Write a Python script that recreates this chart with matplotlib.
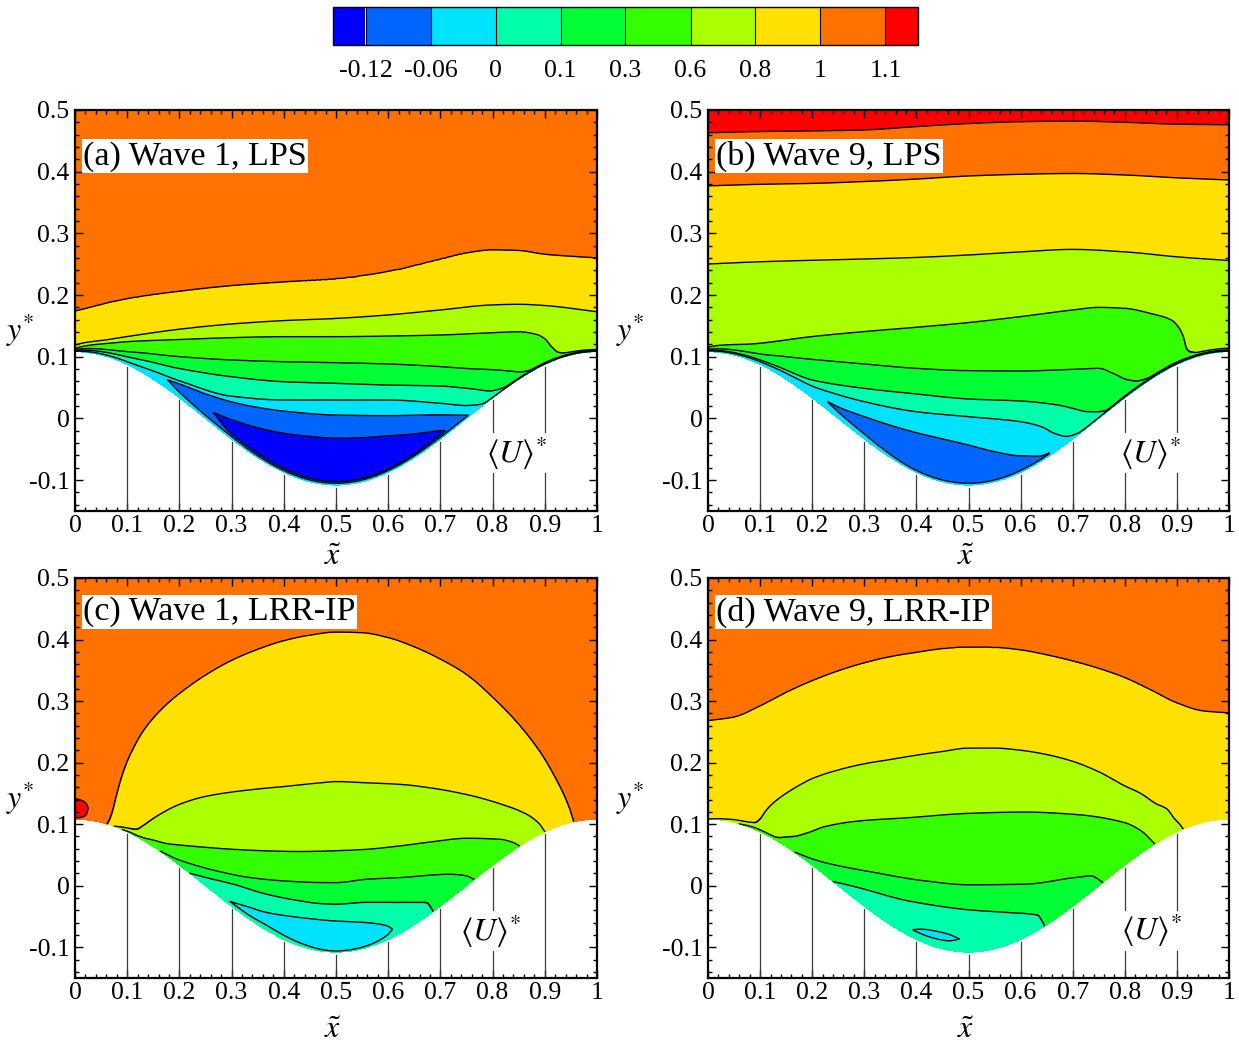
import numpy as np
import matplotlib
matplotlib.use("Agg")
import matplotlib.pyplot as plt
from matplotlib.colors import ListedColormap, BoundaryNorm
from matplotlib.ticker import MultipleLocator

plt.rcParams["font.family"] = "serif"
plt.rcParams["font.serif"] = ["Liberation Serif", "DejaVu Serif"]
plt.rcParams["mathtext.fontset"] = "stix"
plt.rcParams["contour.negative_linestyle"] = "solid"

# ---------------------------------------------------------------- levels
LEVELS = [-0.12, -0.06, 0.0, 0.1, 0.3, 0.6, 0.8, 1.0, 1.1]
LEVEL_LABELS = ["-0.12", "-0.06", "0", "0.1", "0.3", "0.6", "0.8", "1", "1.1"]
BAND_COLORS = ["#0000ff", "#0066ff", "#00e3ff", "#00ffaa", "#00ff33",
               "#33ff00", "#aaff00", "#ffe100", "#ff7100", "#ff0000"]
WAVE_AMPLITUDE = 0.108
STATIONS = [0.1, 0.2, 0.3, 0.4, 0.5, 0.6, 0.7, 0.8, 0.9]

# ------------------------------------------------ (a) Wave 1, LPS
a_top = 1.05
a_wall_x = [0.0, 1.0]
a_wall_u = [-0.03, -0.03]
a_u100_x = [0, .1, .2, .3, .4, .5, .6, .7, .75, .8, .85, .9, 1.0]
a_u100_y = [.174, .194, .206, .215, .221, .226, .238, .258, .268, .273, .272, .266, .260]
a_u080_x = [0, .1, .2, .3, .4, .5, .6, .7, .8, .85, .9, 1.0]
a_u080_y = [.119, .1326, .1445, .153, .1585, .162, .1677, .1758, .184, .185, .183, .173]
a_u060_x = [0, .1, .2, .3, .4, .5, .6, .7, .8, .85, .885, .9, .913, .926, .94, 1.0]
a_u060_y = [.1135, .1245, .128, .131, .1326, .1326, .1336, .1353, .139, .1405, .136, .129,
            .116, .107, .1065, .1115]
a_u030_x = [0, .1, .2, .3, .4, .5, .6, .7, .75, .8, .83, .856, .875, .9, .95, 1.0]
a_u030_y = [.1115, .1083, .1002, .0948, .092, .0904, .0883, .084, .081, .079, .077, .0755,
            .0795, .0904, .1050, .1102]
a_u010_x = [0, .1, .2, .3, .4, .5, .6, .7, .75, .8, .83, .9, .95, 1.0]
a_u010_y = [.110, .100, .081, .0677, .0596, .057, .0542, .0526, .049, .045, .054, .0894,
            .1043, .1095]
a_u000_x = [0, .1, .2, .3, .4, .5, .6, .7, .75, .79, .82, .9, .95, 1.0]
a_u000_y = [.109, .092, .061, .036, .030, .030, .030, .0246, .021, .0279, .0464, .0884,
            .1037, .1088]
a_m006_x = [.1775, .2, .25, .3, .35, .4, .5, .6, .7, .753]
a_m006_top_y = [.0623, .056, .040, .027, .018, .012, .0056, .0046, .006, .005]
a_m006_low_gap = [.015, .009, .005, .004, .003, .003, .003, .003, .003, .003]
a_m012_top_x = [.265, .3, .35, .4, .45, .5, .55, .6, .65, .7, .709]
a_m012_top_y = [.0094, -.002, -.015, -.024, -.029, -.032, -.031, -.028, -.025, -.020, -.0198]
a_m012_low_x = [.265, .3, .4, .5, .6, .7, .709]
a_m012_low_gap = [.0196, .008, .006, .0055, .0055, .007, .0079]

# ------------------------------------------------ (b) Wave 9, LPS
b_top = 1.12
b_wall_x = [0.0, 1.0]
b_wall_u = [-0.03, -0.03]
b_grid_x = [0, .1, .2, .3, .4, .5, .6, .7, .8, .9, 1.0]
b_u110_y = [.463, .465, .466, .4676, .473, .478, .481, .482, .480, .477, .476]
b_u100_y = [.377, .3795, .381, .384, .388, .393, .3957, .397, .3946, .390, .3865]
b_u080_y = [.2504, .254, .2564, .2585, .261, .265, .270, .274, .270, .262, .256]
b_u060_x = [0, .1, .2, .3, .4, .5, .6, .7, .75, .8, .85, .889, .902, .912, .918, .924, .94, 1.0]
b_u060_y = [.1153, .1218, .1326, .1407, .1477, .1553, .165, .1758, .180, .1785, .170, .1596,
            .149, .1326, .1137, .1084, .1072, .1137]
b_u030_x = [0, .1, .2, .3, .4, .5, .6, .7, .75, .78, .806, .825, .851, .9, .95, 1.0]
b_u030_y = [.112, .1045, .0958, .0883, .0812, .0775, .077, .0796, .0812, .072, .0624, .0607,
            .0683, .0914, .1057, .1110]
b_u010_x = [0, .1, .2, .3, .4, .5, .6, .672, .7, .729, .752, .768, .8, .9, .95, 1.0]
b_u010_y = [.1105, .0948, .0623, .0488, .0397, .0316, .0283, .0218, .0164, .011, .011, .0147,
            .0364, .0894, .1047, .1098]
b_u000_x = [0, .1, .2, .3, .4, .5, .6, .64, .665, .69, .72, .8, .9, .95, 1.0]
b_u000_y = [.1095, .092, .0526, .0272, .011, .003, -.0052, -.0133, -.024, -.029, -.0186,
            .0349, .0889, .1042, .1092]
b_m006_x = [.229, .256, .3, .35, .4, .45, .5, .55, .6, .64, .656]
b_m006_top_y = [.0272, .0164, .003, -.011, -.023, -.033, -.043, -.0538, -.0605, -.0605, -.0555]
b_m006_low_gap = [.013, .010, .008, .005, .003, .003, .003, .003, .003, .0032, .0036]

# ------------------------------------------------ (c) Wave 1, LRR-IP
c_top = 1.05
c_wall_x = [0, .062, .075, .09, .163, .22, .27, .6, .645, .687, .765, .852, .9, .955, 1.0]
c_wall_u = [1.05, 1.0, .8, .6, .3, .1, .04, .04, .07, .1, .3, .6, .8, 1.0, 1.05]
c_u110_x = [0, .008, .016, .022, .025]
c_u110_top_y = [.141, .140, .137, .132, .125]
c_u110_low_gap = [.002, .0026, .0045, .009, .0183]
c_u100_x = [.062, .067, .072, .078, .085, .093, .103, .115, .13, .15, .175, .2, .25, .3, .35,
            .4, .45, .5, .55, .6, .65, .7, .75, .8, .85, .88, .9, .92, .935, .945, .95, .955]
c_u100_y = [.100, .108, .120, .140, .163, .185, .207, .228, .250, .272, .294, .312, .342, .366,
            .384, .398, .407, .412, .411, .403, .388, .368, .343, .306, .262, .230, .205, .175,
            .150, .130, .118, .104]
c_u080_x = [.075, .095, .118, .13, .145, .163, .2, .25, .3, .35, .4, .47, .5, .559, .623, .687,
            .75, .814, .865, .89, .9]
c_u080_y = [.0966, .0945, .0916, .097, .106, .116, .132, .145, .152, .157, .161, .167, .169,
            .167, .1645, .158, .148, .133, .116, .100, .0876]
c_u060_x = [.09, .105, .118, .131, .15, .176, .2, .239, .303, .367, .431, .495, .559, .623,
            .687, .75, .814, .84, .852]
c_u060_y = [.0913, .087, .082, .078, .074, .0683, .066, .063, .059, .0565, .0554, .0565, .059,
            .0646, .0716, .077, .0754, .070, .0645]
c_u030_x = [.163, .19, .214, .271, .335, .399, .469, .5, .559, .623, .718, .75, .765]
c_u030_y = [.0563, .045, .0376, .024, .0132, .0078, .0051, .005, .0105, .0132, .0186, .016, .0103]
c_u010_x = [.22, .25, .303, .367, .431, .469, .5, .559, .623, .655, .674, .687]
c_u010_y = [.0203, .0135, .0025, -.0138, -.0246, -.029, -.030, -.027, -.027, -.027, -.0273,
            -.0418]
c_u000_x = [.297, .33, .367, .431, .495, .559, .597, .608]
c_u000_top_y = [-.0257, -.034, -.0435, -.0516, -.057, -.060, -.065, -.0705]
c_u000_low_gap = [.0057, .006, .008, .005, .002, .003, .0074, .013]

# ------------------------------------------------ (d) Wave 9, LRR-IP
d_top = 1.05
d_wall_x = [0, .06, .166, .24, .27, .62, .645, .758, .858, .912, 1.0]
d_wall_u = [.8, .6, .3, .1, .06, .06, .1, .3, .6, .8, .9]
d_u100_x = [0, .05, .1, .15, .2, .25, .3, .35, .4, .45, .5, .55, .6, .65, .7, .75, .8, .85,
            .9, .95, 1.0]
d_u100_y = [.268, .274, .292, .314, .333, .349, .362, .372, .379, .385, .3876, .387, .383,
            .375, .365, .353, .338, .318, .297, .284, .2807]
d_u080_x = [0, .045, .09, .1, .11, .12, .135, .15, .175, .2, .25, .3, .35, .4, .45, .5, .55,
            .6, .65, .7, .75, .8, .83, .86, .88, .895, .905, .912]
d_u080_y = [.1081, .1077, .1024, .108, .120, .130, .141, .150, .163, .174, .188, .198, .205,
            .212, .218, .2235, .2235, .220, .213, .202, .185, .162, .150, .133, .125, .109,
            .100, .0918]
d_u060_x = [.06, .09, .128, .16, .192, .224, .288, .384, .5, .608, .704, .8, .832, .858]
d_u060_y = [.1005, .0942, .0796, .0796, .086, .0959, .105, .1104, .1175, .1196, .1158, .1024,
            .0888, .0677]
d_u030_x = [.166, .195, .224, .32, .416, .5, .608, .704, .736, .758]
d_u030_y = [.0547, .045, .0375, .0213, .0078, .0014, .0024, .0132, .0159, .0054]
d_u010_x = [.24, .288, .384, .5, .576, .633, .645]
d_u010_y = [.0069, -.0029, -.0245, -.039, -.0435, -.0478, -.0624]
d_u000_x = [.393, .41, .435, .46, .483]
d_u000_top_y = [-.0716, -.0708, -.0735, -.0785, -.0865]
d_u000_low_gap = [.0127, .0127, .0135, .0151, .0209]


def wall(x):
    return WAVE_AMPLITUDE * np.cos(2.0 * np.pi * np.asarray(x, dtype=float))


def pchip(xk, yk, xq):
    """Shape-preserving piecewise cubic Hermite interpolation."""
    xk = np.asarray(xk, float)
    yk = np.asarray(yk, float)
    xq = np.asarray(xq, float)
    n = len(xk)
    if n < 3:
        return np.interp(xq, xk, yk)
    h = np.diff(xk)
    delta = np.diff(yk) / h
    m = np.zeros(n)
    for k in range(1, n - 1):
        if delta[k - 1] * delta[k] > 0:
            w1 = 2 * h[k] + h[k - 1]
            w2 = h[k] + 2 * h[k - 1]
            m[k] = (w1 + w2) / (w1 / delta[k - 1] + w2 / delta[k])
    m[0] = delta[0]
    m[-1] = delta[-1]
    idx = np.clip(np.searchsorted(xk, xq) - 1, 0, n - 2)
    t = (xq - xk[idx]) / h[idx]
    h00 = 2 * t**3 - 3 * t**2 + 1
    h10 = t**3 - 2 * t**2 + t
    h01 = -2 * t**3 + 3 * t**2
    h11 = t**3 - t**2
    return (h00 * yk[idx] + h10 * h[idx] * m[idx] + h01 * yk[idx + 1]
            + h11 * h[idx] * m[idx + 1])


def branch(level, xs, ys):
    return ("y", level, np.asarray(xs, float), np.asarray(ys, float))


def lower_branch(level, xs, gaps):
    return ("gap", level, np.asarray(xs, float), np.asarray(gaps, float))


def branch_heights(kind, bx, vals, xq, ywq):
    """Height above the wall of one contour branch on the plotting grid."""
    if kind == "gap":
        return pchip(bx, vals, xq)
    yi = pchip(bx, vals, xq)
    di = pchip(bx, vals - wall(bx), xq)
    w = np.clip(1.0 - di / 0.03, 0.0, 1.0)   # hug the wall where the band is thin
    y = yi + w * (ywq + di - yi)
    return y - ywq


def build_field(wall_x, wall_u, top_u, branches, nx=801, ns=700):
    """Mean-velocity field on a wall-fitted grid from contour-crossing heights."""
    x = np.linspace(0.0, 1.0, nx)
    yw = wall(x)
    depth = 0.5 - yw
    s = np.linspace(0.0, 1.0, ns) ** 1.8
    uw = np.interp(x, wall_x, wall_u)

    per_branch = []
    for kind, lev, bx, vals in branches:
        mask = (x >= bx[0] - 1e-9) & (x <= bx[-1] + 1e-9)
        d = np.full(nx, np.nan)
        d[mask] = branch_heights(kind, bx, vals, x[mask], yw[mask])
        per_branch.append((lev, d))

    U = np.empty((ns, nx))
    for j in range(nx):
        dk, uk = [], []
        for lev, d in per_branch:
            if not np.isnan(d[j]):
                dk.append(max(d[j], 2e-4))
                uk.append(lev)
        order = np.argsort(dk, kind="stable")
        dd = [0.0] + [dk[i] for i in order]
        uu = [uw[j]] + [uk[i] for i in order]
        d2, u2 = [dd[0]], [uu[0]]
        for i in range(1, len(dd)):
            if i >= 2 and abs(uu[i] - uu[i - 1]) < 1e-9:
                # band enclosed by the same level twice: bubble or peak
                ext = uu[i] - 0.02 if uu[i - 2] > uu[i] else uu[i] + 0.02
                d2.append(0.5 * (dd[i] + dd[i - 1]))
                u2.append(ext)
            d2.append(dd[i])
            u2.append(uu[i])
        d2.append(depth[j])
        u2.append(top_u)
        d2 = np.maximum.accumulate(np.asarray(d2)) + 1e-7 * np.arange(len(d2))
        U[:, j] = np.interp(s * depth[j], d2, np.asarray(u2))
    X = np.broadcast_to(x[None, :], (ns, nx))
    Y = yw[None, :] + s[:, None] * depth[None, :]
    return X, Y, U


panels = [
    dict(tag="(a) Wave 1, LPS", top=a_top, wall=(a_wall_x, a_wall_u),
         branches=[branch(1.0, a_u100_x, a_u100_y), branch(0.8, a_u080_x, a_u080_y),
                   branch(0.6, a_u060_x, a_u060_y), branch(0.3, a_u030_x, a_u030_y),
                   branch(0.1, a_u010_x, a_u010_y), branch(0.0, a_u000_x, a_u000_y),
                   branch(-0.06, a_m006_x, a_m006_top_y),
                   lower_branch(-0.06, a_m006_x, a_m006_low_gap),
                   branch(-0.12, a_m012_top_x, a_m012_top_y),
                   lower_branch(-0.12, a_m012_low_x, a_m012_low_gap)],
         ulabel=(0.845, -0.056), row=0, col=0),
    dict(tag="(b) Wave 9, LPS", top=b_top, wall=(b_wall_x, b_wall_u),
         branches=[branch(1.1, b_grid_x, b_u110_y), branch(1.0, b_grid_x, b_u100_y),
                   branch(0.8, b_grid_x, b_u080_y), branch(0.6, b_u060_x, b_u060_y),
                   branch(0.3, b_u030_x, b_u030_y), branch(0.1, b_u010_x, b_u010_y),
                   branch(0.0, b_u000_x, b_u000_y),
                   branch(-0.06, b_m006_x, b_m006_top_y),
                   lower_branch(-0.06, b_m006_x, b_m006_low_gap)],
         ulabel=(0.85, -0.056), row=0, col=1),
    dict(tag="(c) Wave 1, LRR-IP", top=c_top, wall=(c_wall_x, c_wall_u),
         branches=[branch(1.1, c_u110_x, c_u110_top_y),
                   lower_branch(1.1, c_u110_x, c_u110_low_gap),
                   branch(1.0, c_u100_x, c_u100_y), branch(0.8, c_u080_x, c_u080_y),
                   branch(0.6, c_u060_x, c_u060_y), branch(0.3, c_u030_x, c_u030_y),
                   branch(0.1, c_u010_x, c_u010_y),
                   branch(0.0, c_u000_x, c_u000_top_y),
                   lower_branch(0.0, c_u000_x, c_u000_low_gap)],
         ulabel=(0.795, -0.074), row=1, col=0),
    dict(tag="(d) Wave 9, LRR-IP", top=d_top, wall=(d_wall_x, d_wall_u),
         branches=[branch(1.0, d_u100_x, d_u100_y), branch(0.8, d_u080_x, d_u080_y),
                   branch(0.6, d_u060_x, d_u060_y), branch(0.3, d_u030_x, d_u030_y),
                   branch(0.1, d_u010_x, d_u010_y),
                   branch(0.0, d_u000_x, d_u000_top_y),
                   lower_branch(0.0, d_u000_x, d_u000_low_gap)],
         ulabel=(0.852, -0.073), row=1, col=1),
]

W, H = 1239, 1044
fig = plt.figure(figsize=(W / 100, H / 100), dpi=100)

cmap = ListedColormap(BAND_COLORS[1:-1])
cmap.set_under(BAND_COLORS[0])
cmap.set_over(BAND_COLORS[-1])
norm = BoundaryNorm(LEVELS, cmap.N)

ax_left = [75, 708]
ax_width = [522, 521]
ax_top = [110, 578]
ax_height = [401, 400]

cs_ref = None
for p in panels:
    r, c = p["row"], p["col"]
    left = ax_left[c] / W
    bottom = 1 - (ax_top[r] + ax_height[r]) / H
    ax = fig.add_axes([left, bottom, ax_width[c] / W, ax_height[r] / H])

    X, Y, U = build_field(p["wall"][0], p["wall"][1], p["top"], p["branches"])
    cs = ax.contourf(X, Y, U, levels=LEVELS, cmap=cmap, norm=norm, extend="both",
                     antialiased=False, zorder=1)
    ax.contour(X, Y, U, levels=LEVELS, colors="k", linewidths=1.0, zorder=2)
    cs_ref = cs

    for xs in STATIONS:
        ax.plot([xs, xs], [-0.15, float(wall(xs)) - 0.004], color="#3c3c3c", lw=0.9,
                zorder=2)

    ax.set_xlim(0, 1)
    ax.set_ylim(-0.15, 0.5)
    ax.set_xticks(np.round(np.arange(0, 1.01, 0.1), 1))
    ax.set_xticklabels(["0", "0.1", "0.2", "0.3", "0.4", "0.5", "0.6", "0.7", "0.8",
                        "0.9", "1"])
    ax.set_yticks([-0.1, 0, 0.1, 0.2, 0.3, 0.4, 0.5])
    ax.set_yticklabels(["-0.1", "0", "0.1", "0.2", "0.3", "0.4", "0.5"])
    ax.xaxis.set_minor_locator(MultipleLocator(0.02))
    ax.yaxis.set_minor_locator(MultipleLocator(0.02))
    ax.tick_params(which="both", direction="in", top=True, right=True, width=1.0,
                   labelsize=18.5)
    ax.tick_params(which="major", length=6)
    ax.tick_params(axis="x", which="major", pad=3)
    ax.tick_params(axis="y", which="major", pad=4)
    ax.tick_params(which="minor", length=3)
    for sp in ax.spines.values():
        sp.set_linewidth(1.6)

    ax.text(0.016, 0.885 if r == 0 else 0.915, p["tag"], transform=ax.transAxes,
            fontsize=24.5, ha="left", va="center", zorder=4,
            bbox=dict(facecolor="white", edgecolor="none", pad=1.0))
    ax.text(p["ulabel"][0], p["ulabel"][1], r"$\langle U\rangle^{*}$", fontsize=23,
            ha="center", va="center", zorder=4,
            bbox=dict(facecolor="white", edgecolor="none", pad=1.0))
    ax.text(-0.105 if c == 0 else -0.15, 0.45, r"$y^{*}$", transform=ax.transAxes,
            fontsize=23, ha="center", va="center")
    ax.text(0.494, -0.115 if r == 0 else -0.13, r"$\tilde{x}$", transform=ax.transAxes,
            fontsize=23, ha="center", va="center")

cax = fig.add_axes([333 / W, 1 - 45 / H, 585 / W, 38 / H])
cb = fig.colorbar(cs_ref, cax=cax, orientation="horizontal", ticks=LEVELS,
                  drawedges=True, extendrect=True, extendfrac=0.0625)
cb.set_ticklabels(LEVEL_LABELS)
cb.ax.tick_params(length=0, labelsize=18.5, pad=11)
cb.outline.set_linewidth(1.0)
cb.dividers.set_linewidth(0.8)

fig.savefig("out.png", dpi=100)
